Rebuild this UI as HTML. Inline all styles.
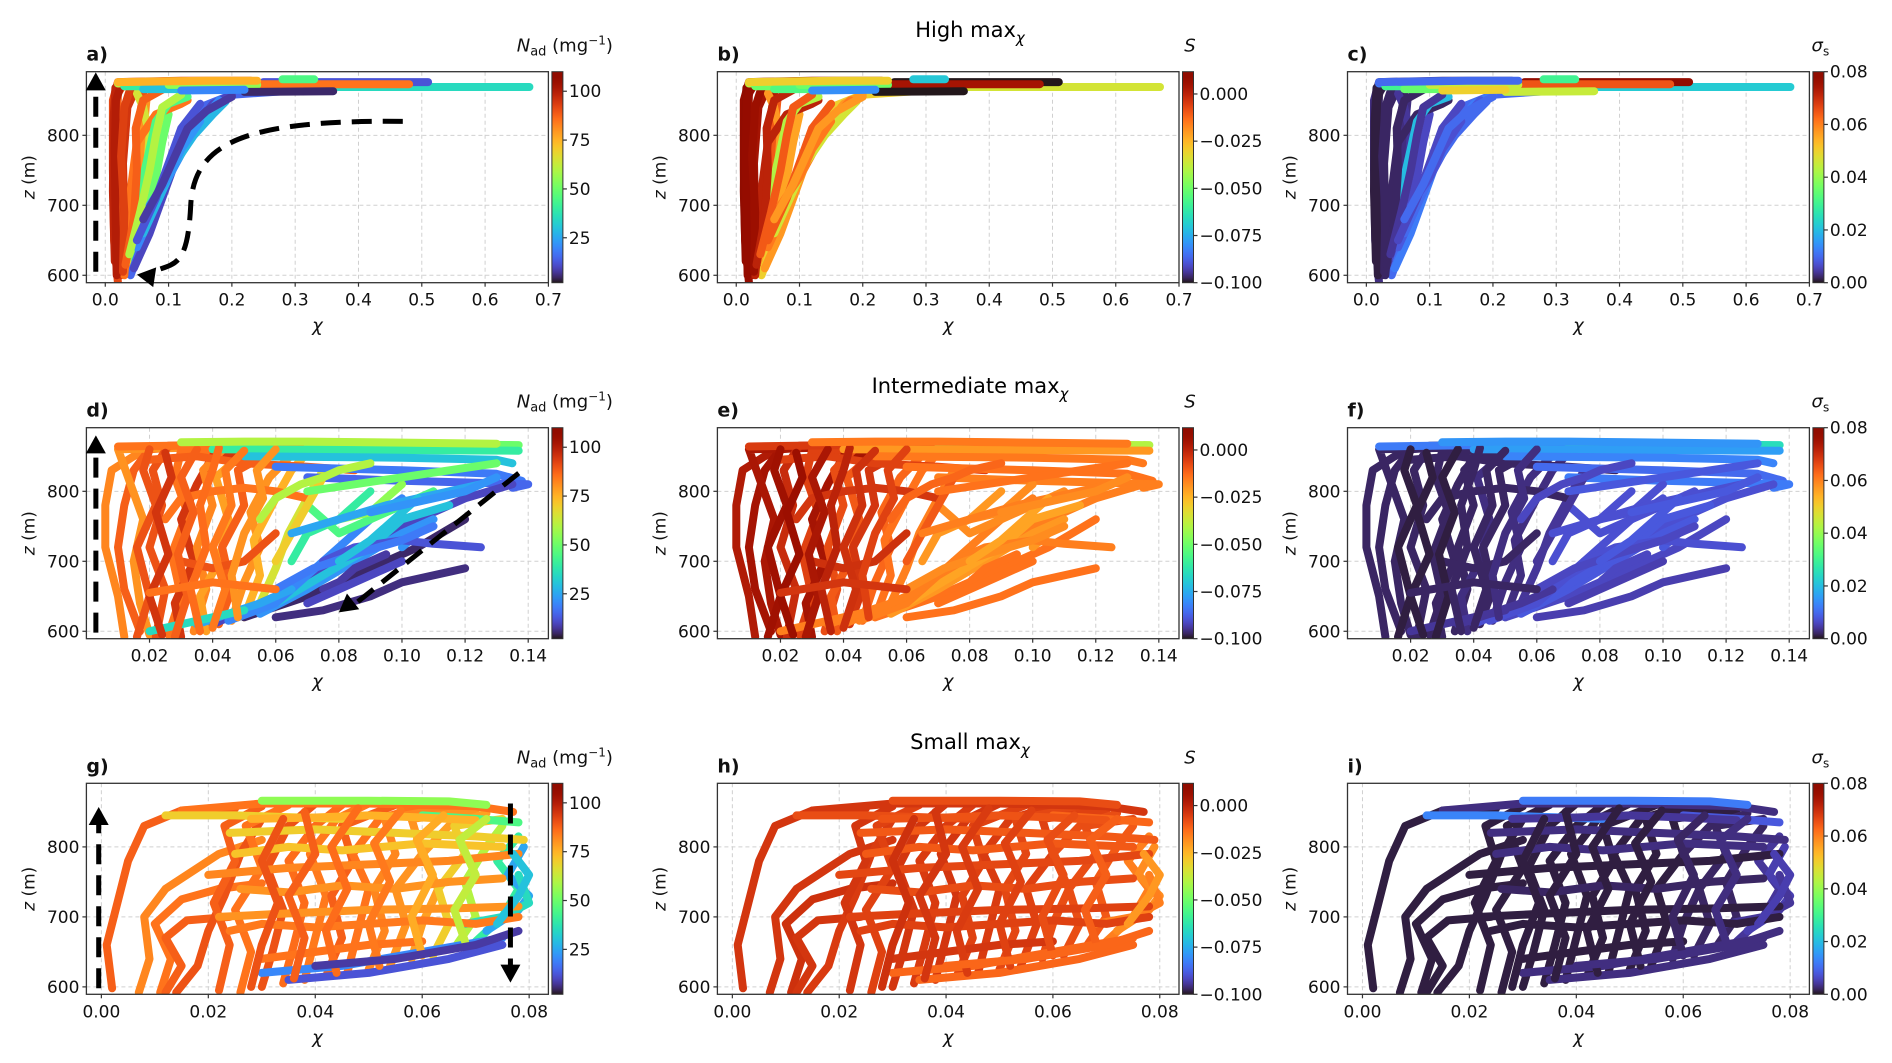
<!DOCTYPE html>
<html><head><meta charset="utf-8">
<style>
html,body{margin:0;padding:0;background:#fff;}
svg{display:block;font-family:"DejaVu Sans","Liberation Sans",sans-serif;}
</style></head>
<body>
<svg id="fig" width="1892" height="1063" viewBox="0 0 1892 1063" xmlns="http://www.w3.org/2000/svg">
<defs id="defs"></defs>
<text x="970" y="37" font-size="21" text-anchor="middle">High max<tspan font-size="15" dy="6" font-style="italic">χ</tspan></text>
<text x="970" y="393" font-size="21" text-anchor="middle">Intermediate max<tspan font-size="15" dy="6" font-style="italic">χ</tspan></text>
<text x="970" y="749" font-size="21" text-anchor="middle">Small max<tspan font-size="15" dy="6" font-style="italic">χ</tspan></text>
</svg>
<script>
// ===== Row 1: High max chi =====
const highChi = [
[0.02,0.014,0.012,0.012,0.02,0.12,0.23],[0.022,0.02,0.018,0.02,0.03,0.2],[0.025,0.03,0.028,0.035,0.05],
[0.03,0.04,0.045,0.05,0.055,0.06],[0.035,0.05,0.055,0.06,0.065],[0.04,0.055,0.065,0.07,0.06,0.05],
[0.045,0.065,0.08,0.09,0.1],[0.04,0.06,0.08,0.1,0.12,0.15,0.2,0.3],[0.045,0.07,0.09,0.11,0.14,0.17,0.2],
[0.05,0.075,0.1,0.13,0.16,0.18],[0.06,0.085,0.11,0.14,0.17,0.19],[0.03,0.035,0.04,0.05,0.08,0.12,0.13],
[0.015,0.012,0.013,0.016],[0.05,0.06,0.07,0.08,0.1,0.13],
[0.018,0.016,0.015,0.017,0.025],[0.028,0.03,0.025,0.03,0.04],[0.032,0.045,0.05,0.048,0.06,0.09],
[0.038,0.055,0.07,0.08,0.09,0.12],[0.05,0.08,0.1,0.12,0.15],[0.07,0.1,0.12,0.15],
[0.06,0.09,0.11,0.13,0.16,0.19,0.2],[0.02,0.05,0.1,0.15,0.23],[0.03,0.1,0.2,0.3],
[0.06,0.36],[0.2,0.67],[0.25,0.51],[0.24,0.48],[0.1,0.24],[0.02,0.16,0.24],[0.22,0.36],[0.28,0.33],[0.12,0.22]];
const highZ = [
[590,650,750,850,876,878,878],[600,680,780,860,874,876],[600,680,760,840,870],
[605,660,720,780,830,860],[610,680,740,800,850],[620,680,740,800,840,860],
[625,680,740,790,830],[600,650,700,750,800,840,858,864],[610,660,710,760,810,845,858],
[640,690,740,790,830,850],[660,710,760,800,830,848],[600,650,720,790,830,845,850],
[620,720,820,868],[700,740,780,820,845,855],
[600,700,780,850,872],[605,690,770,840,868],[615,680,750,810,850,865],
[630,690,750,800,840,858],[650,710,760,810,845],[700,740,780,820],
[680,730,770,810,835,850,855],[874,876,877,877,877],[870,870,868,866],
[866,866],[869,869],[876,876],[873,873],[872,872],[876,878,878],[862,863],[880,880],[864,865]];
const highNad = [92,88,95,90,80,65,50,15,10,20,28,85,98,45,100,93,88,60,12,22,8,60,40,30,35,12,85,55,75,5,45,20];
const highS   = [0.008,0.005,0.004,0.002,-0.01,-0.02,-0.022,-0.03,-0.02,-0.015,-0.035,0.0,0.01,-0.04,0.008,0.006,0.0,-0.01,-0.01,-0.015,-0.02,-0.04,-0.05,-0.055,-0.035,-0.1,0.004,-0.05,-0.03,-0.1,-0.07,-0.08];
const highSig = [0.003,0.002,0.002,0.002,0.003,0.004,0.006,0.01,0.012,0.008,0.01,0.002,0.001,0.02,0.001,0.002,0.002,0.004,0.006,0.007,0.01,0.012,0.03,0.035,0.022,0.078,0.065,0.045,0.01,0.045,0.03,0.05];

// ===== Row 2: Intermediate max chi =====
const intChi = [
[0.012,0.01,0.006,0.006,0.008,0.015,0.02],[0.017,0.012,0.01,0.012,0.015,0.02,0.04],[0.02,0.017,0.015,0.018,0.014,0.01,0.03],
[0.022,0.025,0.02,0.024,0.021,0.026,0.05],[0.026,0.03,0.027,0.032,0.028,0.03,0.07],[0.03,0.028,0.034,0.03,0.035,0.04,0.08],
[0.034,0.038,0.035,0.04,0.037,0.045],[0.038,0.036,0.042,0.045,0.041,0.05,0.09],[0.042,0.046,0.043,0.05,0.048,0.06],
[0.046,0.05,0.055,0.052,0.058,0.065,0.1],[0.05,0.055,0.053,0.06,0.065,0.07],[0.055,0.06,0.064,0.07,0.075],
[0.025,0.03,0.04,0.05,0.06,0.07],[0.03,0.04,0.05,0.055,0.06],[0.02,0.035,0.05,0.07,0.085],
[0.01,0.07],[0.07,0.137],[0.04,0.137],[0.05,0.1,0.13,0.135],[0.06,0.1,0.13,0.138,0.13],[0.07,0.1,0.125,0.14,0.135],
[0.04,0.06,0.08,0.1,0.12,0.135],[0.05,0.07,0.09,0.105,0.12],[0.055,0.07,0.085,0.1,0.11,0.1],[0.06,0.075,0.09,0.1,0.115],
[0.045,0.06,0.07,0.08,0.09,0.1],[0.065,0.07,0.08,0.085,0.09],[0.07,0.075,0.08,0.09,0.1,0.11],[0.035,0.045,0.055,0.065],
[0.02,0.03,0.04,0.05],[0.075,0.085,0.1,0.11,0.125],[0.08,0.09,0.095,0.1],[0.06,0.065,0.07,0.075],[0.075,0.08,0.085,0.095],
[0.016,0.02,0.016,0.022,0.018,0.02],[0.024,0.02,0.026,0.022,0.027,0.025],[0.028,0.032,0.029,0.034,0.03,0.035],
[0.036,0.033,0.038,0.036,0.04,0.042],[0.04,0.044,0.04,0.046,0.044,0.05],[0.048,0.046,0.05,0.056,0.054,0.06],
[0.055,0.06,0.068,0.075,0.08,0.09],[0.07,0.085,0.1,0.115,0.13],[0.065,0.08,0.095,0.11,0.125],
[0.06,0.072,0.085,0.1,0.11],[0.07,0.08,0.09,0.1],[0.06,0.075,0.09,0.1,0.12],[0.08,0.09,0.1,0.105],
[0.09,0.1,0.11,0.12,0.13],[0.03,0.05,0.07,0.09,0.11,0.13],[0.02,0.04,0.06]];
const intZ = [
[592,650,720,780,830,850,862],[600,660,720,780,830,860,866],[595,640,700,760,810,860,862],
[592,660,720,780,830,865,868],[595,650,710,770,820,858,862],[592,640,700,760,810,850,860],
[600,660,720,780,830,868],[600,650,700,760,820,855,858],[610,660,720,780,830,860],
[615,670,720,770,820,852,856],[620,680,730,790,830,855],[640,690,740,790,830],
[760,790,800,805,800,790],[700,690,700,720,740],[845,850,840,835,830],
[864,868],[868,866],[860,858],[850,848,845,840],[835,830,825,815,805],[820,815,812,810,805],
[610,650,700,750,790,810],[620,650,690,720,760],[625,660,700,740,760,720],[640,680,720,760,780],
[615,640,680,720,760,790],[700,740,760,780,800],[780,760,740,760,780,800],[610,625,640,660],
[600,610,620,630],[700,720,730,725,720],[760,770,790,810],[700,740,780,820],[660,670,690,710],
[592,650,720,780,830,860],[595,650,710,770,820,855],[592,650,710,770,820,860],
[600,660,720,780,830,862],[605,660,720,780,830,858],[620,680,740,790,830,860],
[760,790,810,820,830,840],[800,810,820,830,840],[740,760,780,795,810],
[660,690,710,730,750],[640,660,680,700],[620,630,650,670,690],[700,730,770,790],
[770,780,790,800,820],[870,871,871,870,869,868],[655,670,660]];
const intNad = [82,88,80,90,85,95,82,78,88,80,75,65,85,90,88,85,50,40,30,18,15,10,5,22,30,20,40,45,25,35,12,55,70,8,
 90,95,88,86,84,80,60,50,25,18,10,6,30,22,60,85];
const intS   = [0.002,0.004,0.003,-0.002,-0.006,0.004,-0.008,-0.01,-0.004,-0.012,-0.014,-0.016,-0.004,-0.003,-0.006,-0.005,-0.04,-0.02,-0.015,-0.014,-0.016,-0.016,-0.014,-0.02,-0.022,-0.016,-0.02,-0.018,-0.016,-0.016,-0.016,-0.018,-0.01,-0.014,
 0.005,0.006,0.003,0.0,-0.003,-0.006,-0.012,-0.014,-0.016,-0.018,-0.014,-0.014,-0.022,-0.018,-0.015,-0.004];
const intSig = [0.002,0.002,0.002,0.002,0.002,0.002,0.002,0.003,0.002,0.003,0.003,0.004,0.002,0.002,0.002,0.012,0.025,0.016,0.013,0.01,0.012,0.007,0.006,0.008,0.008,0.007,0.007,0.007,0.004,0.004,0.007,0.007,0.004,0.006,
 0.001,0.001,0.001,0.002,0.002,0.003,0.006,0.008,0.007,0.006,0.005,0.005,0.008,0.008,0.015,0.002];

// ===== Row 3: Small max chi =====
const smallChi = [
[0.002,0.001,0.003,0.005,0.008,0.015,0.025],[0.007,0.009,0.008,0.012,0.018,0.022,0.03],[0.011,0.013,0.01,0.015,0.022,0.03],
[0.012,0.015,0.012,0.016,0.024],[0.014,0.018,0.02,0.023,0.026,0.03],[0.022,0.024,0.021,0.025,0.023,0.03],
[0.026,0.028,0.025,0.03,0.027,0.035],[0.03,0.032,0.034,0.031,0.035,0.04],[0.034,0.036,0.038,0.035,0.04,0.045],
[0.038,0.04,0.042,0.039,0.044,0.05],[0.042,0.045,0.043,0.047,0.045,0.055],[0.046,0.048,0.05,0.047,0.052,0.06],
[0.05,0.053,0.051,0.055,0.053,0.065],[0.054,0.057,0.055,0.06,0.058,0.07],[0.058,0.06,0.063,0.06,0.065,0.072],
[0.062,0.065,0.063,0.068,0.066,0.075],[0.066,0.07,0.068,0.072,0.075],[0.07,0.075,0.078,0.074,0.078],
[0.072,0.078,0.08,0.076,0.079],[0.068,0.075,0.08,0.078],[0.022,0.035,0.05,0.065,0.078],
[0.02,0.035,0.05,0.065,0.078],[0.024,0.04,0.055,0.07,0.079],[0.03,0.045,0.06,0.075],
[0.035,0.05,0.065,0.075],[0.03,0.04,0.05,0.06],[0.015,0.03,0.05,0.07,0.077],
[0.012,0.025,0.045],[0.03,0.05,0.065,0.072],[0.06,0.07,0.078],
[0.024,0.03,0.04,0.05,0.06,0.07,0.078],[0.026,0.035,0.045,0.055,0.065,0.075],[0.025,0.035,0.045,0.06,0.075],
[0.028,0.04,0.05,0.06,0.07],[0.028,0.03,0.033,0.03,0.034],[0.036,0.038,0.035,0.04,0.038],
[0.044,0.042,0.046,0.043,0.048],[0.052,0.05,0.054,0.051,0.056],[0.06,0.058,0.062,0.059,0.064],
[0.068,0.066,0.07,0.067,0.072],[0.074,0.078,0.08,0.077],[0.04,0.055,0.07,0.078]];
const smallZ = [
[598,660,720,780,830,852,855],[592,640,700,740,770,790,810],[592,640,690,725,740,748],
[592,630,670,695,700],[592,630,680,730,790,840],[595,660,720,780,830,858],
[592,650,710,770,830,860],[600,650,710,770,830,862],[605,660,720,780,830,860],
[610,670,730,790,840,862],[615,670,730,780,830,860],[620,680,740,790,840,858],
[625,680,740,790,840,856],[630,690,740,790,840,852],[640,690,740,790,830,848],
[645,690,740,790,830,840],[655,700,750,800,830],[665,700,740,780,815],
[680,710,730,760,800],[690,700,720,760],[700,705,710,712,715],
[760,770,775,780,790],[820,825,820,815,810],[620,630,650,670],
[610,620,640,660],[640,650,660,665],[852,862,862,858,850],
[845,845,840],[866,866,865,860],[845,840,835],
[680,690,685,690,695,690,700],[740,735,745,740,750,755],[790,800,795,805,800],
[840,842,845,842,838],[600,660,720,780,840],[612,670,730,790,850],
[620,680,740,800,855],[630,690,750,805,852],[645,700,760,810,845],
[665,710,760,810,840],[690,730,760,790],[630,640,660,680]];
const smallNad = [88,82,85,88,90,88,85,90,86,84,88,85,82,80,78,70,60,40,25,35,80,82,70,20,12,85,85,70,55,45,
 84,80,72,75,90,88,86,84,76,62,30,8];
const smallS   = [-0.004,-0.004,-0.003,-0.004,-0.005,-0.004,-0.006,-0.004,-0.005,-0.004,-0.006,-0.005,-0.007,-0.006,-0.008,-0.008,-0.01,-0.016,-0.018,-0.016,-0.006,-0.007,-0.01,-0.012,-0.012,-0.004,-0.004,-0.008,-0.008,-0.012,
 -0.006,-0.008,-0.01,-0.009,-0.003,-0.004,-0.005,-0.006,-0.008,-0.011,-0.02,-0.012];
const smallSig = [0.001,0.001,0.001,0.001,0.001,0.001,0.001,0.001,0.001,0.001,0.001,0.001,0.001,0.001,0.002,0.002,0.002,0.004,0.005,0.004,0.001,0.001,0.003,0.003,0.003,0.001,0.003,0.013,0.012,0.008,
 0.001,0.002,0.003,0.004,0.001,0.001,0.001,0.001,0.002,0.003,0.005,0.003];

// tick labels
const ticksHighX = [0.0,0.1,0.2,0.3,0.4,0.5,0.6,0.7];
const ticksIntX = [0.02,0.04,0.06,0.08,0.10,0.12,0.14];
const ticksSmallX = [0.00,0.02,0.04,0.06,0.08];
const ticksZ = [600,700,800];
const ticksNad = [25,50,75,100];
const ticksS = [0.000,-0.025,-0.050,-0.075,-0.100];
const ticksSig = [0.00,0.02,0.04,0.06,0.08];

const NS='http://www.w3.org/2000/svg';
const svg=document.getElementById('fig');
const defs=document.getElementById('defs');
function mk(tag,attrs,parent){const e=document.createElementNS(NS,tag);for(const k in attrs)e.setAttribute(k,attrs[k]);(parent||svg).appendChild(e);return e;}
function turbo(x){x=Math.max(0,Math.min(1,x));
 const r=0.13572138+x*(4.61539260+x*(-42.66032258+x*(132.13108234+x*(-152.94239396+x*59.28637943))));
 const g=0.09140261+x*(2.19418839+x*(4.84296658+x*(-14.18503333+x*(4.27729857+x*2.82956604))));
 const b=0.10667330+x*(12.64194608+x*(-60.58204836+x*(110.36276771+x*(-89.90310912+x*27.34824973))));
 const c=v=>Math.round(Math.max(0,Math.min(1,v))*255);return `rgb(${c(r)},${c(g)},${c(b)})`;}
const grad=mk('linearGradient',{id:'turboGrad',x1:0,y1:1,x2:0,y2:0},defs);
for(let i=0;i<=40;i++){mk('stop',{offset:(i/40),'stop-color':turbo(i/40)},grad);}

const colX=[86.4,717.4,1347.5];
const colW=[462,461.6,461.9];
const rowY=[71.7,427.7,783.3];
const AH=211;
const rows=[
 {chi:highChi,z:highZ,vals:[highNad,highS,highSig],xmin:-0.0298,xmax:0.7,ticks:ticksHighX,fmt:v=>v.toFixed(1),lw:8},
 {chi:intChi,z:intZ,vals:[intNad,intS,intSig],xmin:0.0,xmax:0.1464,ticks:ticksIntX,fmt:v=>v.toFixed(2),lw:8},
 {chi:smallChi,z:smallZ,vals:[smallNad,smallS,smallSig],xmin:-0.0028,xmax:0.0836,ticks:ticksSmallX,fmt:v=>v.toFixed(2),lw:8}];
const cbars=[{min:2,max:110,ticks:ticksNad,fmt:v=>String(v)},
 {min:-0.1,max:0.0118,ticks:ticksS,fmt:v=>(v<0?'−':'')+Math.abs(v).toFixed(3)},
 {min:0,max:0.08,ticks:ticksSig,fmt:v=>v.toFixed(2)}];
const letters=[['a','b','c'],['d','e','f'],['g','h','i']];
const zmin=589.4,zmax=890.9;

for(let r=0;r<3;r++){
 const R=rows[r];
 for(let c=0;c<3;c++){
  const L=colX[c],T=rowY[r],W=colW[c],B=T+AH;
  const xs=v=>L+(v-R.xmin)/(R.xmax-R.xmin)*W;
  const ys=v=>B-(v-zmin)/(zmax-zmin)*AH;
  const g=mk('g',{});
  
  
  const clipId='clip'+r+c;
  const cp=mk('clipPath',{id:clipId},defs);mk('rect',{x:L,y:T,width:W,height:AH},cp);
  R.ticks.forEach(t=>{const x=xs(t);const gl=mk('line',{x1:x,y1:T,x2:x,y2:B,stroke:'#d0d0d0','stroke-width':1,'stroke-dasharray':'4 3'},g);
   });
  ticksZ.forEach(t=>{const y=ys(t);const gl=mk('line',{x1:L,y1:y,x2:L+W,y2:y,stroke:'#d0d0d0','stroke-width':1,'stroke-dasharray':'4 3'},g);
   });
  const cb=cbars[c];
  const tg=mk('g',{'clip-path':`url(#${clipId})`},g);
  
  for(let k=0;k<R.chi.length;k++){
   const pts=R.chi[k].map((v,i)=>xs(v).toFixed(1)+','+ys(R.z[k][i]).toFixed(1)).join(' ');
   const col=turbo((R.vals[c][k]-cb.min)/(cb.max-cb.min));
   const pl=mk('polyline',{points:pts,fill:'none',stroke:col,'stroke-width':R.lw,'stroke-linecap':'round','stroke-linejoin':'round'},tg);
   
   
  }
  const fr=mk('rect',{x:L,y:T,width:W,height:AH,fill:'none',stroke:'#333','stroke-width':1.3},g);
  
  R.ticks.forEach(t=>{const x=xs(t);mk('line',{x1:x,y1:B,x2:x,y2:B+4,stroke:'#333','stroke-width':1.2},g);
   const tx=mk('text',{x:x,y:B+23,'font-size':17,'text-anchor':'middle',fill:'#111'},g);tx.textContent=R.fmt(t);
   });
  ticksZ.forEach(t=>{const y=ys(t);mk('line',{x1:L-4,y1:y,x2:L,y2:y,stroke:'#333','stroke-width':1.2},g);
   const tx=mk('text',{x:L-7,y:y+6,'font-size':17,'text-anchor':'end',fill:'#111'},g);tx.textContent=t;
   });
  const xl=mk('text',{x:L+W/2,y:B+49,'font-size':18,'text-anchor':'middle','font-style':'italic',fill:'#111'},g);xl.textContent='χ';
  
  const yl=mk('text',{x:0,y:0,'font-size':17,'text-anchor':'middle',fill:'#111',transform:`translate(${L-52},${T+AH/2}) rotate(-90)`},g);
  yl.innerHTML='<tspan font-style="italic">z</tspan> (m)';
  
  const lt=mk('text',{x:L,y:T-11,'font-size':19,'font-weight':'bold',fill:'#111'},g);lt.textContent=letters[r][c]+')';
  
  const cx=L+W+3.5,cw=11;
  const cr=mk('rect',{x:cx,y:T,width:cw,height:AH,fill:'url(#turboGrad)',stroke:'#333','stroke-width':1},g);
  
  cb.ticks.forEach(t=>{const y=T+AH-(t-cb.min)/(cb.max-cb.min)*AH;
   mk('line',{x1:cx+cw,y1:y,x2:cx+cw+4,y2:y,stroke:'#333','stroke-width':1.2},g);
   const tx=mk('text',{x:cx+cw+6,y:y+6,'font-size':17,fill:'#111'},g);tx.textContent=cb.fmt(t);
   });
  const ct=mk('text',{x:c===0?cx+cw+50:cx+cw/2+2,y:T-20,'font-size':18,'text-anchor':c===0?'end':'middle',fill:'#111'},g);
  if(c===0) ct.innerHTML='<tspan font-style="italic">N</tspan><tspan font-size="13" dy="4">ad</tspan><tspan dy="-4"> (mg</tspan><tspan font-size="12" dy="-7">−1</tspan><tspan dy="7">)</tspan>';
  else if(c===1) ct.innerHTML='<tspan font-style="italic">S</tspan>';
  else ct.innerHTML='<tspan font-style="italic">σ</tspan><tspan font-size="12" dy="4">s</tspan>';
  
  if(c===0){
   const ag=mk('g',{},g);
   const dash={fill:'none',stroke:'#000','stroke-width':5,'stroke-dasharray':'20 11'};
   const head=(x,y,ang)=>{const s=10,l=18;const ca=Math.cos(ang),sa=Math.sin(ang);
     const p=[[x,y],[x-l*ca+s*sa,y-l*sa-s*ca],[x-l*ca-s*sa,y-l*sa+s*ca]];
     mk('polygon',{points:p.map(q=>q.join(',')).join(' '),fill:'#000'},ag);};
   if(r===0){
    const x0=xs(-0.015);mk('line',Object.assign({x1:x0,y1:ys(605),x2:x0,y2:ys(872)},dash),ag);head(x0,ys(890),-Math.PI/2);
    mk('path',Object.assign({d:`M${xs(0.47)},${ys(820)} C${xs(0.22)},${ys(822)} ${xs(0.14)},${ys(790)} ${xs(0.135)},${ys(700)} S${xs(0.11)},${ys(618)} ${xs(0.075)},${ys(605)}`},dash),ag);
    head(xs(0.05),ys(601),Math.PI+0.15);
   } else if(r===1){
    const x0=xs(0.003);mk('line',Object.assign({x1:x0,y1:ys(598),x2:x0,y2:ys(862)},dash),ag);head(x0,ys(880),-Math.PI/2);
    const x1=xs(0.137),y1=ys(826),x2=xs(0.084),y2=ys(635);
    mk('line',Object.assign({x1:x1,y1:y1,x2:x2,y2:y2},dash),ag);head(xs(0.08),ys(627),Math.atan2(ys(627)-y1,xs(0.08)-x1));
   } else {
    const x0=xs(-0.0005);mk('line',Object.assign({x1:x0,y1:ys(598),x2:x0,y2:ys(835)},dash),ag);head(x0,ys(857),-Math.PI/2);
    const x1=xs(0.0765);mk('line',Object.assign({x1:x1,y1:ys(862),x2:x1,y2:ys(628)},dash),ag);head(x1,ys(606),Math.PI/2);
   }
  }
 }
}
</script>
</body></html>
